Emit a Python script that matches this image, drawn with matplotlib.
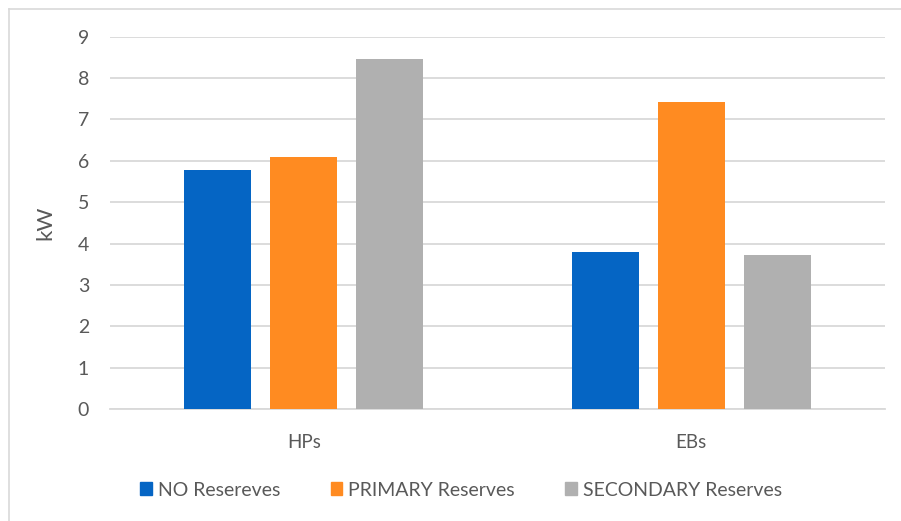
import numpy as np
import matplotlib
matplotlib.use("Agg")
import matplotlib.pyplot as plt
from matplotlib.lines import Line2D
from matplotlib.patches import Patch

plt.rcParams["font.family"] = ["Lato", "DejaVu Sans"]

categories = ["HPs", "EBs"]
series = ["NO Resereves", "PRIMARY Reserves", "SECONDARY Reserves"]
no_res = [5.78, 3.79]
primary = [6.09, 7.42]
secondary = [8.47, 3.72]
yticks = list(range(0, 10))

COLORS = ["#0565C4", "#FF8B21", "#B0B0B0"]
TXT = "#595959"

fig = plt.figure(figsize=(9.01, 5.21), dpi=100)
ax = fig.add_axes([110 / 901, (521 - 409) / 521, 775 / 901, (409 - 36.7) / 521])

x = np.arange(len(categories))
w = 0.173
step = 0.222
for i, (vals, c) in enumerate(zip([no_res, primary, secondary], COLORS)):
    ax.bar(x + (i - 1) * step, vals, w, color=c, zorder=3)

ax.set_xlim(-0.5, 1.5)
ax.set_ylim(0, 9)
ax.set_yticks(yticks)
ax.set_xticks(x, categories)
ax.yaxis.grid(True, color="#D9D9D9", lw=1.3, zorder=0)
for s in ["top", "right", "left"]:
    ax.spines[s].set_visible(False)
ax.spines["bottom"].set_color("#D9D9D9")
ax.spines["bottom"].set_linewidth(1.3)
ax.tick_params(axis="y", length=0, labelsize=14, colors=TXT, pad=15)
ax.tick_params(axis="x", length=0, labelsize=13.5, colors=TXT, pad=18)
ax.set_ylabel("kW", fontsize=16, color=TXT)
ax.yaxis.set_label_coords(-0.07, 0.5)

handles = [Patch(color=c) for c in COLORS]
fig.legend(handles, series, loc="center", bbox_to_anchor=(461 / 901, 1 - 490 / 521),
           ncol=3, frameon=False, fontsize=14, labelcolor=TXT,
           handlelength=0.6, handleheight=0.6, handletextpad=0.3, columnspacing=2.6)

# light chart-area border (top and left visible)
fig.add_artist(Line2D([9 / 901, 1], [1 - 9 / 521, 1 - 9 / 521], color="#D9D9D9", lw=1.2))
fig.add_artist(Line2D([9 / 901, 9 / 901], [0, 1 - 9 / 521], color="#D9D9D9", lw=1.2))

fig.savefig("out.png", dpi=100)
